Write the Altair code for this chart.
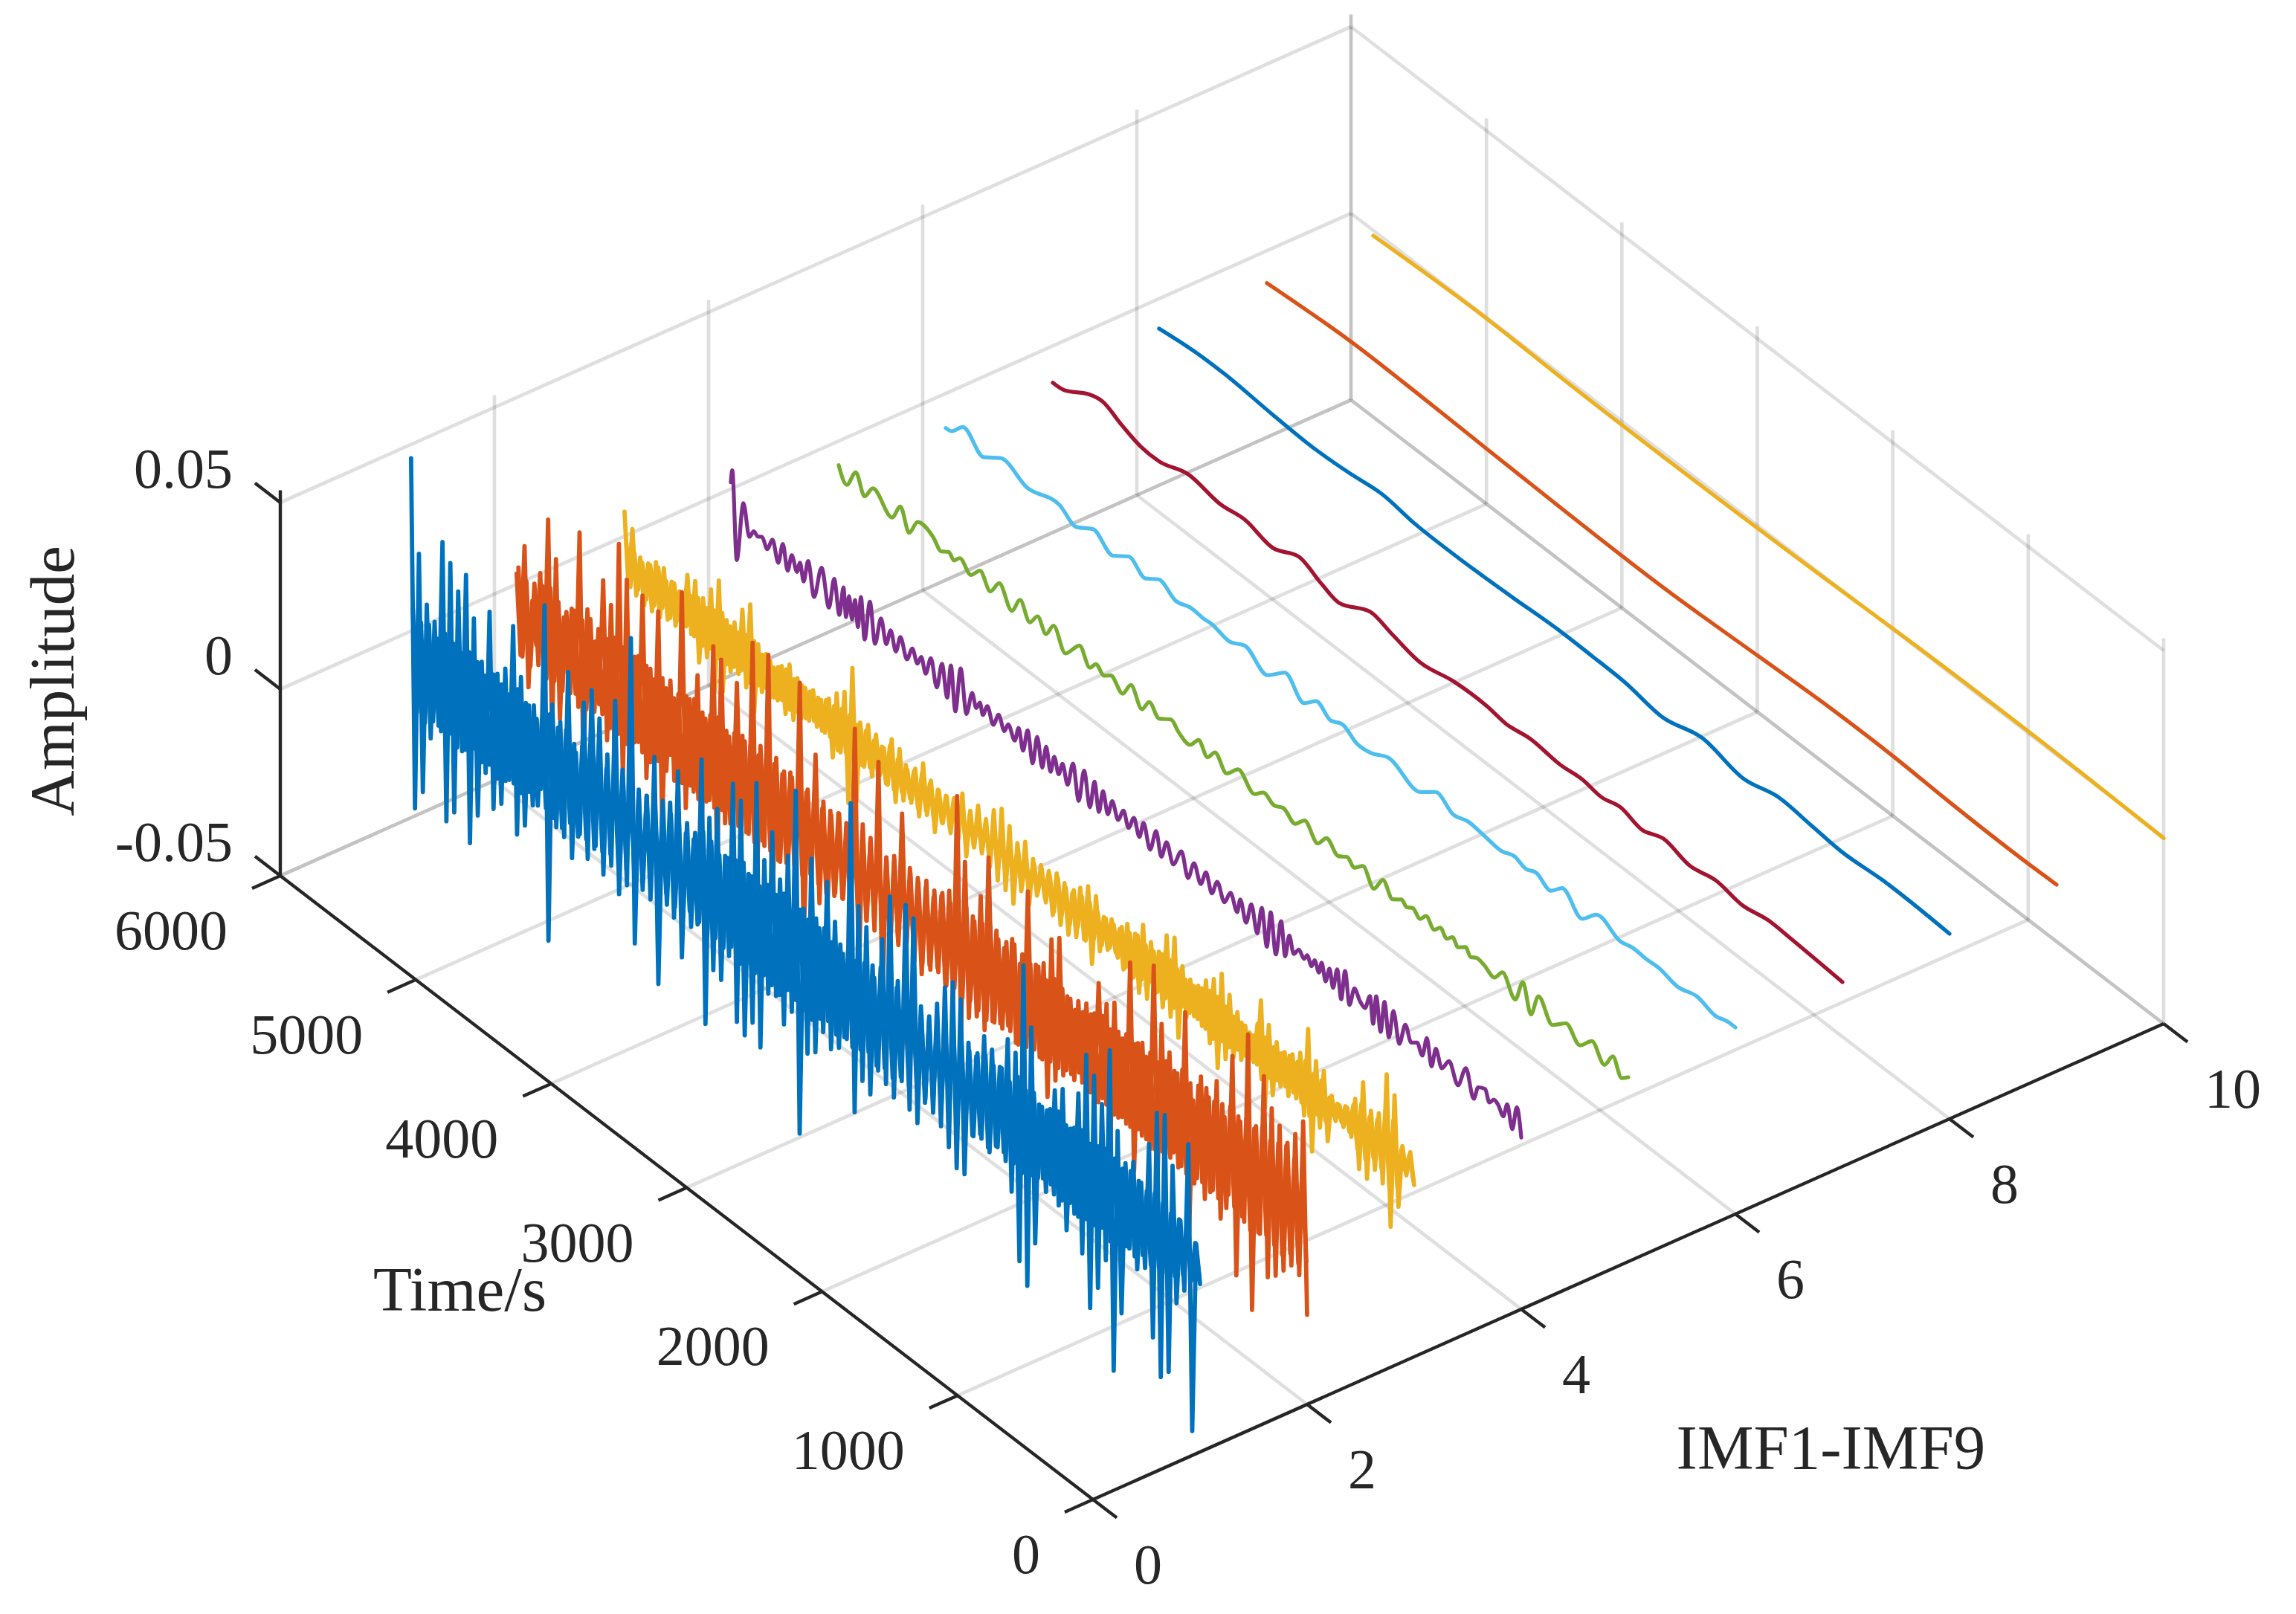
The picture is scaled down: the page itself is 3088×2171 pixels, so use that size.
import altair as alt
import numpy as np
import pandas as pd

# ---- values (amplitudes in units of 0.001) ----
# imfN: excursions (tops and bottoms of the spikes); imfN_core: the fast oscillation that fills the dense band
imf1 = [54,-39,30,-33,18,-17,15,-12,38,-36,34,-32,28,-14,34,-37,24,-28,14,-15,29,-23,14,-20,17,-12,30,-25,18,-21,12,-14,10,-8,
        42,-47,17,-15,14,-16,29,-20,9,-12,24,-17,29,-12,23,-18,15,-14,31,-20,12,-16,51,-30,12,-14,12,-15,24,-36,10,-10,15,-15,25,-24,10,-10,10,-12,
        33,-37,19,-21,23,-22,12,-14,33,-30,30,-32,12,-27,38,-32,19,-16,28,-15,17,-21,25,-16,44,-47,14,-24,29,-22,12,-15,26,-18,17,-16,10,-12,
        52,-30,26,-20,22,-22,10,-14,22,-16,35,-18,14,-12,36,-18,34,-20,10,-12,11,-14,16,-16,22,-20,25,-24,22,-24,12,-12,10,-10,17,-12,15,-10,12,-10,
        21,-19,19,-36,44,-41,29,-28,10,-9,10,-9,17,-13,19,-18,10,-12,21,-21,33,-34,29,-27,23,-18,39,-46,19,-29,12,-10,14,-14,10,-12,22,-29,32,-38,33,-35,21,-15,8,-10,30,-46,5,-5]
imf1_core = [14,-13,12,-14,13,-12,11,-13,14,-12,13,-14,12,-13,14,-11,13,-13,11,-12,13,-14,12,-13,11,-12,14,-13,12,-11,13,-13,11,-12,14,-13,12,-14,13,-11,11,-13,12,-12,14,-13,13,-12,11,-11,12,-13,14,-12,
             13,-14,11,-12,12,-13,13,-11,14,-13,12,-12,11,-13,13,-14,12,-11,14,-13,13,-12,11,-13,12,-11,13,-14,14,-12,12,-13,11,-12,13,-13,12,-14,14,-11,11,-12,13,-13,12,-14,14,-12,13,-11,11,-13,12,-12,
             13,-13,11,-12,12,-11,13,-13,14,-12,11,-13,12,-11,13,-12,11,-11,12,-13,10,-11,12,-12,11,-10,13,-12,12,-11,10,-12,11,-11,12,-13,11,-10,12,-12,10,-11,13,-12,11,-11,12,-10,10,-12,11,-11,12,-11,10,-10,11,-12,
             12,-11,10,-11,11,-10,12,-12,11,-11,10,-10,11,-11,10,-9,9,-10,10,-9,9,-9,8,-8,8,-6,6,-6,5,-3]
imf2 = [10,-11,19,-18,6,-5,15,-13,31,-25,22,-20,8,-6,12,-10,34,-29,15,-9,8,-8,26,-16,21,-22,39,-23,31,-26,12,-10,30,-18,12,-12,29,-27,10,-7,9,-14,39,-18,12,-12,20,-20,10,-11,
        31,-28,29,-14,10,-12,26,-13,12,-12,40,-29,14,-12,40,-29,14,-13,12,-12,12,-12,39,-30,12,-10,23,-16,12,-16,10,-10,12,-10,9,-9,38,-28,14,-11,12,-12,34,-30,10,-13,12,-10,25,-12,
        12,-10,11,-14,10,-10,9,-9,11,-12,14,-14,41,-22,25,-16,12,-14,19,-16,31,-12,13,-11,10,-10,14,-13,9,-10,30,-14,12,-12,14,-21,22,-15,24,-12,10,-10,8,-8,9,-10,10,-9,20,-10,16,-19,18,-12,10,-12,
        32,-23,12,-12,10,-14,36,-19,22,-12,16,-10,12,-12,30,-28,8,-12,16,-16,12,-12,18,-18,10,-10,28,-30,12,-14,37,-36,14,-14,29,-24,22,-22,19,-19,16,-16,20,-17,25,-26]
imf2_core = [12,-11,10,-12,11,-10,12,-12,13,-11,11,-12,10,-11,12,-13,11,-12,13,-11,12,-10,11,-12,13,-12,12,-13,11,-11,13,-12,12,-13,10,-11,12,-12,13,-13,11,-12,12,-11,13,-13,11,-12,12,-12,13,-11,11,-13,12,-12,
             13,-12,12,-13,11,-11,13,-12,12,-13,11,-12,13,-11,12,-12,11,-10,12,-11,10,-12,11,-11,12,-10,11,-11,10,-12,12,-11,11,-10,12,-12,10,-11,11,-11,12,-10,11,-12,10,-11,12,-11,11,-10,12,-12,11,-11,12,-12,13,-11,11,-12,
             12,-13,13,-12,11,-12,12,-11,13,-13,12,-12,11,-11,12,-12,10,-11,12,-11,11,-10,10,-11,11,-10,12,-11,11,-12,12,-11,10,-12,11,-11,12,-12,11,-11,13,-12,12,-13,11,-12,13,-12,12,-13,14,-13,12,-14,13,-12,
             14,-13,12,-13,13,-14,14,-12,13,-13,14,-15,13,-14,15,-13,13,-14,14,-15,15,-13,13,-14,12,-12]
imf3 = [14,-5,11,-6,5,-7,5,-7,7,-7,7,-6,5,-6,4,-4,10,-5,10,-11,7,-8,11,-15,15,-14,6,-7,7,-6,12,-8,15,-13,6,-6,5,-6,3,-5,5,-7,7,-7,5,-5,4,-4,5,-4,4,-4,6,-9,9,-6,11,-18,19,-16,
        6,-5,7,-6,6,-4,4,-5,8,-8,7,-6,3,-5,5,-7,8,-5,5,-8,4,-4,4,-5,5,-5,8,-8,5,-4,8,-3,6,-6,10,-8,12,-9,9,-11,6,-6,8,-8,5,-4,5,-3,5,-6,6,-7,5,-8,4,-7,7,-6,9,-11,8,-6,4,-4,5,-3,4,-6,7,-7,6,-9,10,-9,7,-6,6,-8,
        12,-9,13,-13,7,-6,5,-4,5,-5,8,-8,10,-13,13,-9,9,-7,6,-6,4,-4,3,-4,14,-14,9,-9,6,-5,5,-6,6,-5,8,-8,16,-16,9,-8,8,-10,3,-3,2,-3,3,-4,7,-11,13,-12,7,-8,8,-10,20,-20,16,-13,4,-3,4,-4]
imf3_core = [6,-5,5,-4,4,-5,5,-5,6,-4,4,-5,5,-4,4,-4,5,-5,6,-6,5,-5,6,-6,7,-6,5,-5,5,-4,6,-6,6,-5,4,-4,4,-5,4,-4,5,-5,4,-4,4,-4,4,-3,4,-4,5,-4,5,-6,6,-5,6,-6,
             5,-5,5,-4,4,-4,4,-5,6,-5,4,-4,4,-4,4,-5,5,-4,4,-5,4,-4,4,-4,5,-4,5,-5,4,-4,5,-4,5,-5,6,-5,5,-6,5,-4,5,-5,4,-4,4,-3,4,-4,4,-5,5,-4,4,-5,5,-4,5,-6,5,-4,4,-4,4,-3,4,-4,5,-5,5,-6,6,-5,5,-4,5,-5,
             6,-5,6,-6,5,-4,4,-4,4,-4,5,-5,6,-6,6,-5,5,-5,4,-4,4,-4,3,-4,7,-7,5,-5,4,-4,4,-4,5,-4,5,-5,7,-7,5,-5,5,-5,2,-2,2,-2,3,-3,5,-6,7,-7,5,-5,6,-6,10,-10,9,-8,3,-2,3,-3]

imf4_t = [5836,5825,5792,5743,5699,5666,5638,5605,5567,5528,5485,5452,5416,5386,5347,5325,5298,5265,5221,5166,5111,5073,5034,5004,4985,4963,4941,4919,4897,4875,4848,4809,4771,4727,4688,4656,4617,4584,4535,4496,4458,4430,4397,4359,4315,4277,4238,4211,4178,4139,4096,4054,4024,3997,3975,3942,3898,3859,3816,3788,3739,3711,3678,3645,3607,3574,3536,3508,3475,3448,3415,3387,3349,3310,3267,3228,3184,3151,3118,3088,3052,3020,2976,2937,2899,2860,2819,2789,2740,2696,2657,2619,2569,2509,2460,2416,2366,2328,2284,2245,2191,2147,2097,2075,2031,1993,1949,1916,1878,1850,1812,1773,1743,1713,1680,1642,1603,1581,1548,1526,1493,1474,1444,1416,1389,1359,1329,1301,1268,1232,1191,1153,1117,1093,1071,1038,1010,977,944,900,856,813,769,730,697,662,631,587,533,467,409,351,318,266,236,203,170,132,104,66,33,0]
imf4 = [9,12.5,-10.6,6,-1.8,0.6,0,0.8,-1.4,2.2,-2.8,3.2,-3,2,-1.4,1.7,-2.6,3.8,-4.6,4.8,-4.4,4.4,-4.2,4,-3.4,2.8,-2.8,3,-3.6,5,-5.6,5.6,-4.6,3.4,-2.4,2.2,-2.4,2.4,-2.2,1.8,-1.2,1.4,-2.2,3,-3.6,3.8,-4.2,5.2,-6.2,6.4,-4.6,2.2,-1,1.2,-1.5,1.8,-2,1.8,-1.4,1.2,-1.8,2.4,-2.8,3.6,-4.2,3.8,-3.4,3,-2.8,2,-1.8,1.8,-2.8,4,-4.8,4.4,-4.2,3.6,-3.6,2.8,-2.4,2,-1.8,1.8,-1.8,2,-2,2.6,-3.2,3,-2.8,2.2,-2.4,2.8,-3,2.2,-2,2.2,-2.2,2,-2,1.8,-2,2,-3,3,-3.6,4.2,-5.2,4.8,-5.4,4.6,-4,2.4,-1.6,0.6,-0.8,0.8,-1.2,1,-1.4,1.8,-2.4,1.8,-2.6,3.2,-4,4.4,-3.8,1.6,-0.6,-1.4,2.8,-4,4,-4.6,4.2,-4.4,3.6,-4,2.4,-1.2,0,-2.4,3.2,-3.4,2.2,-1.8,1.6,-3,3.2,-3.4,0.6,1.6,-1.2,0.5,0,-2,2,-3.6,3.2,-4]

imf5_t = [5830,5770,5704,5638,5578,5435,5375,5309,5248,5133,5073,5018,4979,4936,4853,4787,4710,4645,4551,4491,4419,4362,4299,4244,4156,4052,3975,3931,3870,3821,3733,3673,3590,3538,3464,3376,3321,3234,3173,3107,3052,2965,2882,2759,2696,2613,2547,2460,2391,2292,2229,2141,2075,2023,1960,1878,1812,1740,1674,1636,1592,1537,1493,1433,1389,1340,1298,1257,1202,1164,1120,1065,988,930,834,779,719,664,560,461,357,269,176,115,49,0]
imf5 = [1,-2.6,2.6,-2,1.8,-2,2.6,-2.6,2,1.2,-1,0.4,-0.8,1,-1.2,1.8,-1.6,2.4,-2.4,2.2,-1.8,1.4,-1.6,2.2,-2.8,2.2,-1.6,0.6,-0.8,0.6,-1.8,2.2,-2,1.4,-1,1.2,-0.6,-1.6,1.4,-1.4,1.4,-1.8,1.6,-1.6,0.6,-0.6,0.6,-1.2,1.6,-1.8,1.4,-1,0.6,-0.8,1.4,-2.4,1.8,-1.4,0.4,-0.6,0.4,-1,1,-1,0.8,-0.8,0.8,-0.8,0.8,-0.8,0.2,-0.2,-1.4,1.6,-3,3.2,-3.8,2.6,-2.2,1,-2,1.6,-2.2,1.8,-2.2,-0.6]

imf6_t = [5830,5786,5704,5550,5427,5232,4990,4864,4743,4595,4480,4354,4260,4131,4024,3920,3870,3728,3623,3453,3327,3184,3096,2987,2904,2794,2690,2564,2322,2215,2081,1974,1867,1724,1631,1548,1471,1362,1279,1131,1027,848,760,653,565,428,285,143,55,0]
imf6 = [-1.8,-1.4,2,-1.8,1.4,-1,1,-1.4,1.4,-1.6,1.4,-1,1.4,-0.8,0.4,0.2,0.4,-0.6,1.4,-1.8,2.4,-1.8,1.2,-1,0.4,-1.8,-1.4,0.9,-1.6,1.4,-1,0.2,-0.2,-0.8,0.4,-0.6,0.5,-1.3,1.7,-2.4,1.6,-0.6,0.2,0,0.2,-1,0.4,-1,0,0]

imf7_t = [5830,5743,5570,5463,5325,5183,5045,4834,4590,4414,4205,4013,3854,3714,3486,3327,3118,2871,2624,2482,2306,2081,1922,1779,1639,1482,1323,1128,933,741,549,373,0]
imf7 = [-2.4,-2,1.8,2.8,0.5,-1.4,-1.6,0.9,-0.5,0.4,-1.4,1.6,-0.9,-2.5,1.5,0,-1.8,0,0.2,-0.6,0.4,-0.4,0.2,-0.6,0.6,-1,1,-0.8,0.6,-0.6,0.7,0.4,-0.6]

imf8_t = [5836,5556,5345,4996,4677,4436,4189,3945,3662,3256,2888,2641,2394,2114,1831,1515,1268,1021,793,494,0]
imf8 = [-0.8,0.4,0.5,-0.5,-1,-0.4,0.7,-0.5,-0.7,-0.2,0.6,0.5,0.2,-1.4,1.2,-1.2,1,0.2,-0.6,0.2,-0.4]

imf9_t = [5830,5207,4735,4211,2833,2201,1672,1197,791,192,0]
imf9 = [-1.2,0.4,0.2,-0.4,-1.2,-0.1,0.8,0.8,0.1,-0.2,0]

imf10_t = [5836,5001,4447,2339,1987,983,0]
imf10 = [-1.4,-0.3,-0.8,-0.2,0.2,0.5,-0.3]

colors = ["#0072BD","#D95319","#EDB120","#7E2F8E","#77AC30","#4DBEEE","#A2142F","#0072BD","#D95319","#EDB120"]
time_ticks = [0,1000,2000,3000,4000,5000,6000]
imf_ticks = [0,2,4,6,8,10]
amp_ticks = [-0.05,0,0.05]
amp_labels = ["-0.05","0","0.05"]
AMP_TOP = 0.0533

# view of the box: page position of the (t=0, imf=0, amp=-0.05) corner and the three edge vectors
def project(t, imf, amp):
    t, imf, amp = np.asarray(t, float), np.asarray(imf, float), np.asarray(amp, float)
    px = 1470 - t/6000*1093 + imf/10*1440
    py = 2017 - t/6000*839 - imf/10*640 - (amp+0.05)/0.05*251
    return px, py

def frame(t, imf, amp, **extra):
    px, py = project(t, imf, amp)
    d = pd.DataFrame({"px": px, "py": py})
    for k, v in extra.items():
        d[k] = v
    return d

X = alt.X("px:Q", scale=alt.Scale(domain=[8, 3080]), axis=None)
Y = alt.Y("py:Q", scale=alt.Scale(domain=[2163, 8]), axis=None)

def segments(pairs):
    rows = []
    for i, (a, b) in enumerate(pairs):
        rows.append(frame([a[0], b[0]], [a[1], b[1]], [a[2], b[2]], seg=i))
    return pd.concat(rows, ignore_index=True)

def seg_layer(pairs, width, opacity, color="#262626"):
    return alt.Chart(segments(pairs)).mark_line(stroke=color, strokeWidth=width, opacity=opacity).encode(
        x=X, y=Y, detail="seg:N")

light = []
for t in time_ticks[1:-1]:
    light.append(((t, 0, -0.05), (t, 10, -0.05)))
for i in imf_ticks[1:-1]:
    light.append(((0, i, -0.05), (6000, i, -0.05)))
for a in amp_ticks[1:]:
    light.append(((6000, 0, a), (6000, 10, a)))
    light.append(((6000, 10, a), (0, 10, a)))
for i in imf_ticks[1:-1]:
    light.append(((6000, i, -0.05), (6000, i, AMP_TOP)))
for t in time_ticks[:-1]:
    light.append(((t, 10, -0.05), (t, 10, AMP_TOP)))

dark_grid = [((6000, 0, -0.05), (6000, 10, -0.05)),
             ((6000, 10, -0.05), (0, 10, -0.05)),
             ((6000, 10, -0.05), (6000, 10, AMP_TOP))]

axes = [((6000, 0, -0.05), (0, 0, -0.05)),
        ((0, 0, -0.05), (0, 10, -0.05)),
        ((6000, 0, -0.05), (6000, 0, AMP_TOP))]
for t in time_ticks:
    axes.append(((t, 0, -0.05), (t, -0.264, -0.05)))
for i in imf_ticks:
    axes.append(((0, i, -0.05), (-176, i, -0.05)))
for a in amp_ticks:
    axes.append(((6000, 0, a), (6187, 0, a)))

layers = [seg_layer(light, 4.7, 0.15), seg_layer(dark_grid, 4.7, 0.28)]

def line_layer(n, t, v, interp, width):
    d = frame(t, [n]*len(t), np.array(v, float)/1000)
    return alt.Chart(d).mark_line(stroke=colors[n-1], strokeWidth=width, interpolate=interp,
                                  strokeCap="round", strokeJoin="round").encode(x=X, y=Y)

series = [
    (1, np.linspace(5825, 0, len(imf1)), imf1, np.linspace(5812, 6, len(imf1_core)), imf1_core),
    (2, np.linspace(5836, 0, len(imf2)), imf2, np.linspace(5823, 6, len(imf2_core)), imf2_core),
    (3, np.linspace(5830, 0, len(imf3)), imf3, np.linspace(5817, 6, len(imf3_core)), imf3_core),
    (4, imf4_t, imf4, None, None),
    (5, imf5_t, imf5, None, None),
    (6, imf6_t, imf6, None, None),
    (7, imf7_t, imf7, None, None),
    (8, imf8_t, imf8, None, None),
    (9, imf9_t, imf9, None, None),
    (10, imf10_t, imf10, None, None),
]
for n, t, v, tc, vc in reversed(series):
    if vc is None:
        layers.append(line_layer(n, t, v, "monotone", 5.2))
    else:
        layers.append(line_layer(n, t, v, "linear", 5.8))
        layers.append(line_layer(n, tc, vc, "linear", 5.8))

layers.append(seg_layer(axes, 4.4, 1.0))

FONT = "Liberation Serif"
def text_layer(t, imf, amp, labels, size, align, dx=0, dy=0, angle=0):
    d = frame(t, imf, amp, label=labels)
    return alt.Chart(d).mark_text(font=FONT, fontSize=size, color="#262626", align=align, baseline="middle",
                                  dx=dx, dy=dy, angle=angle).encode(x=X, y=Y, text="label:N")

layers.append(text_layer(time_ticks, [0]*7, [-0.05]*7, [str(t) for t in time_ticks], 76, "right", -71, 76))
layers.append(text_layer([0]*6, imf_ticks, [-0.05]*6, [str(i) for i in imf_ticks], 76, "left", 55, 90))
layers.append(text_layer([6000]*3, [0]*3, amp_ticks, amp_labels, 76, "right", -64, -43))
layers.append(text_layer([2983], [-2.14], [-0.05], ["Time/s"], 85, "center"))
layers.append(text_layer([-1693], [4.75], [-0.05], ["IMF1-IMF9"], 85, "center"))
layers.append(text_layer([7670], [0], [-0.0443], ["Amplitude"], 85, "center", angle=270))

chart = alt.layer(*layers).properties(
    width=3072, height=2155, padding=0, background="white", autosize=alt.AutoSizeParams(type="none")
).configure_view(stroke=None)

chart.save("out.html", embed_options={"renderer": "svg", "actions": False})
